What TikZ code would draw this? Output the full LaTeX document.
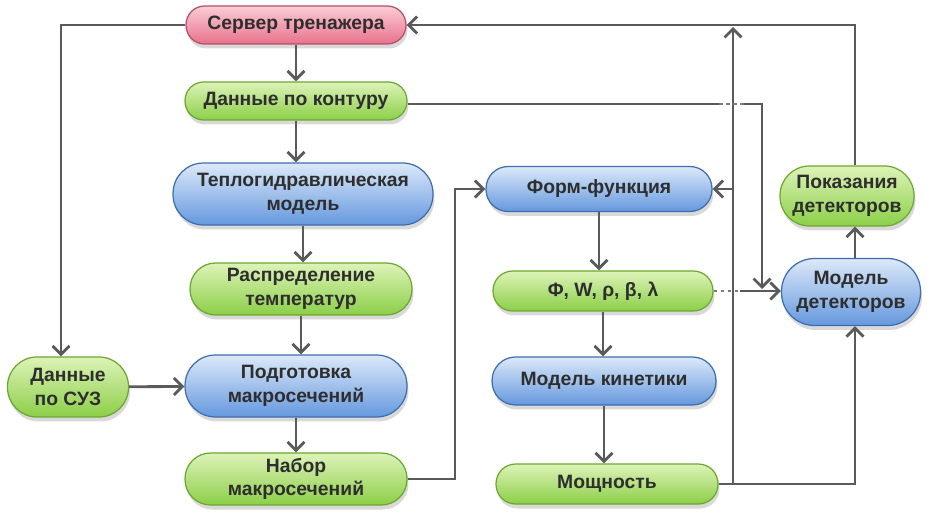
\documentclass[tikz,border=0pt]{standalone}
\usepackage{fontspec}
\setmainfont{Liberation Sans}
\usetikzlibrary{shadows, arrows.meta}

\definecolor{wiregray}{HTML}{5A5A5A}
\definecolor{labelgray}{HTML}{2E2E2E}
\definecolor{greentop}{HTML}{DDF3B8}
\definecolor{greenbot}{HTML}{8CCF48}
\definecolor{greenrim}{HTML}{6BA82E}
\definecolor{bluetop}{HTML}{DCE9F9}
\definecolor{bluebot}{HTML}{6598DE}
\definecolor{bluerim}{HTML}{3E6DAF}
\definecolor{pinktop}{HTML}{FBCCD6}
\definecolor{pinkbot}{HTML}{E8728B}
\definecolor{pinkrim}{HTML}{B44F69}

\begin{document}
\begin{tikzpicture}[
    x=0.02cm, y=-0.02cm,
    box/.style 2 args={draw, line width=0.7pt, align=center, inner sep=1pt,
        minimum width=#1, minimum height=#2, rounded corners=0.49*#2,
        font=\fontsize{11}{13.5}\selectfont\bfseries, text=labelgray,
        drop shadow={opacity=0.3, shadow xshift=0.03cm, shadow yshift=-0.09cm}},
    greenbox/.style={draw=greenrim, top color=greentop, bottom color=greenbot},
    bluebox/.style={draw=bluerim, top color=bluetop, bottom color=bluebot},
    pinkbox/.style={draw=pinkrim, top color=pinktop, bottom color=pinkbot},
    wire/.style={draw=wiregray, line width=1.6pt},
    hop/.style={draw=wiregray!80, line width=1.6pt, dash pattern=on 2pt off 2pt},
    >={Straight Barb[length=1.7mm, width=3.4mm]}
]
    \useasboundingbox (0,0) rectangle (929,527);

    \node (server) [box={4.4cm}{0.76cm}, pinkbox] at (296,25) {Сервер тренажера};
    \node (kontur) [box={4.44cm}{0.76cm}, greenbox] at (296,101) {Данные по контуру};
    \node (thermo) [box={5.2cm}{1.24cm}, bluebox] at (303,194) {Теплогидравлическая\\модель};
    \node (temps) [box={4.44cm}{1.04cm}, greenbox] at (301,289) {Распределение\\температур};
    \node (prep) [box={4.44cm}{1.24cm}, bluebox] at (296,386) {Подготовка\\макросечений};
    \node (xsets) [box={4.44cm}{1.04cm}, greenbox] at (296,479) {Набор\\макросечений};
    \node (suz) [box={2.42cm}{1.2cm}, greenbox] at (68,387) {Данные\\по СУЗ};

    \node (form) [box={4.52cm}{0.9cm}, bluebox] at (599,189) {Форм-функция};
    \node (params) [box={4.4cm}{0.8cm}, greenbox] at (603,291) {Φ, W, ρ, β, λ};
    \node (kinet) [box={4.48cm}{0.96cm}, bluebox] at (604,381) {Модель кинетики};
    \node (power) [box={4.44cm}{0.8cm}, greenbox] at (607,484) {Мощность};

    \node (readings) [box={2.68cm}{1.2cm}, greenbox] at (847,196) {Показания\\детекторов};
    \node (detmodel) [box={2.78cm}{1.34cm}, bluebox] at (851,292) {Модель\\детекторов};

    \coordinate (leftturn) at (61,25);
    \coordinate (midturn) at (455,300);
    \coordinate (feedtop) at (733,27);
    \coordinate (rightcol) at (855,25);
    \coordinate (hopstart) at (719,104);
    \coordinate (hopend) at (744,104);
    \coordinate (kdrop) at (762,289);
    \coordinate (phihop) at (740,291);

    \draw [wire, ->] (server) -- (server |- kontur.north);
    \draw [wire, ->] (kontur) -- (kontur |- thermo.north);
    \draw [wire, ->] (thermo) -- (thermo |- temps.north);
    \draw [wire, ->] (temps) -- (temps |- prep.north);
    \draw [wire, ->] (prep) -- (prep |- xsets.north);
    \draw [wire, ->] (suz) -- (prep);
    \draw [wire, ->] (server.west) -- (leftturn) -- (leftturn |- suz.north);
    \draw [wire, ->] (xsets.east) -| (midturn) |- (form.west);

    \draw [wire, ->] (form) -- (form |- params.north);
    \draw [wire, ->] (params) -- (params |- kinet.north);
    \draw [wire, ->] (kinet) -- (kinet |- power.north);

    \draw [wire, ->] (power.east) -| (feedtop);
    \draw [wire, ->] (form.east -| feedtop) -- (form.east);
    \draw [wire, ->] (power.east) -| (detmodel.south -| rightcol);
    \draw [wire, ->] (detmodel.north -| rightcol) -- (readings.south -| rightcol);
    \draw [wire, ->] (readings.north -| rightcol) -- (rightcol) -- (server.east);

    \draw [wire] (kontur.east |- hopstart) -- (hopstart);
    \draw [hop] (hopstart) -- (hopend);
    \draw [wire, ->] (hopend) -| (kdrop);
    \draw [hop] (params.east) -- (phihop);
    \draw [wire, ->] (phihop) -- (detmodel.west |- phihop);
\end{tikzpicture}
\end{document}
